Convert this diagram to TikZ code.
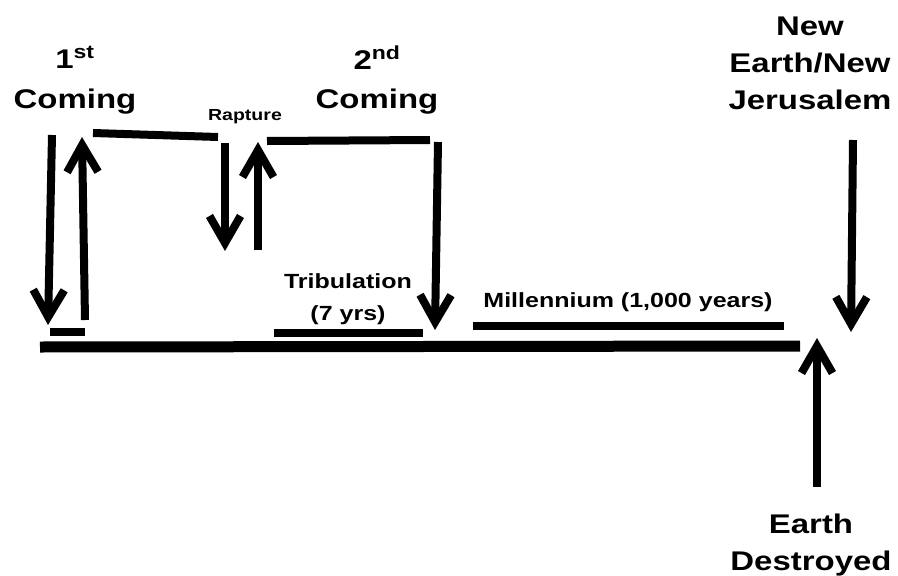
\documentclass[tikz,border=0pt]{standalone}
\usepackage{fontspec}
\setmainfont{Liberation Sans}[FakeStretch=1.22]
\usetikzlibrary{arrows.meta}
\tikzset{every node/.style={align=center, inner sep=0pt}, >={Straight Barb[length=27pt,width=31pt]}, font=\bfseries}
\tikzset{
  bar/.style={line width=8pt},
  timeline/.style={line width=11pt},
  event/.style={->, line width=8pt},
  bigtext/.style={font=\bfseries\fontsize{27}{37}\selectfont},
  midtext/.style={font=\bfseries\fontsize{20.5}{32}\selectfont},
  smalltext/.style={font=\bfseries\fontsize{16}{20}\selectfont}
}

\begin{document}
\begin{tikzpicture}[x=1pt,y=-1pt]
            \useasboundingbox (0,0) rectangle (898,576);
            % labels (base = last line)
            \node[bigtext, anchor=base] (first) at (75,108) {1\textsuperscript{st}\\[3pt]Coming};
            \node[bigtext, anchor=base] (second) at (377,108) {2\textsuperscript{nd}\\[2pt]Coming};
            \node[smalltext, anchor=base] (rapture) at (245,120) {Rapture};
            \node[midtext, anchor=base] (trib) at (348,320) {Tribulation\\(7 yrs)};
            \node[midtext, anchor=base] (mill) at (628,307) {Millennium (1,000 years)};
            \node[bigtext, anchor=base] (newjer) at (810,109) {New\\Earth/New\\Jerusalem};
            \node[bigtext, anchor=base] (destroyed) at (811,570) {Earth\\Destroyed};
            % end points
            \coordinate (t0) at (40,347);   \coordinate (t1) at (800,346);
            \coordinate (a0) at (50,332);   \coordinate (a1) at (85,332);
            \coordinate (b0) at (93,133);   \coordinate (b1) at (218,137);
            \coordinate (c0) at (267,141);  \coordinate (c1) at (430,140);
            \coordinate (d0) at (274,333);  \coordinate (d1) at (423,333);
            \coordinate (m0) at (473,326);  \coordinate (m1) at (784,326);
            \coordinate (fdtop) at (52,135);  \coordinate (fdtip) at (48,325);
            \coordinate (fubot) at (85,320);  \coordinate (futip) at (82,137);
            \coordinate (rdtop) at (225,143); \coordinate (rdtip) at (225,251);
            \coordinate (rubot) at (258,250); \coordinate (rutip) at (258,142);
            \coordinate (sdtop) at (438,142); \coordinate (sdtip) at (435,330);
            \coordinate (ndtop) at (853,140); \coordinate (ndtip) at (851,332);
            \coordinate (edbot) at (817,487); \coordinate (edtip) at (817,338);
            % bars
            \draw[timeline] (t0) -- (t1);
            \draw[bar] (a0) -- (a1);
            \draw[bar] (b0) -- (b1);
            \draw[bar] (c0) -- (c1);
            \draw[bar] (d0) -- (d1);
            \draw[bar] (m0) -- (m1);
            % arrows
            \draw[event] (fdtop) -- (fdtip);
            \draw[event] (fubot) -- (futip);
            \draw[event] (rdtop) -- (rdtip);
            \draw[event] (rubot) -- (rutip);
            \draw[event] (sdtop) -- (sdtip);
            \draw[event] (ndtop) -- (ndtip);
            \draw[event] (edbot) -- (edtip);
        \end{tikzpicture}
\end{document}
